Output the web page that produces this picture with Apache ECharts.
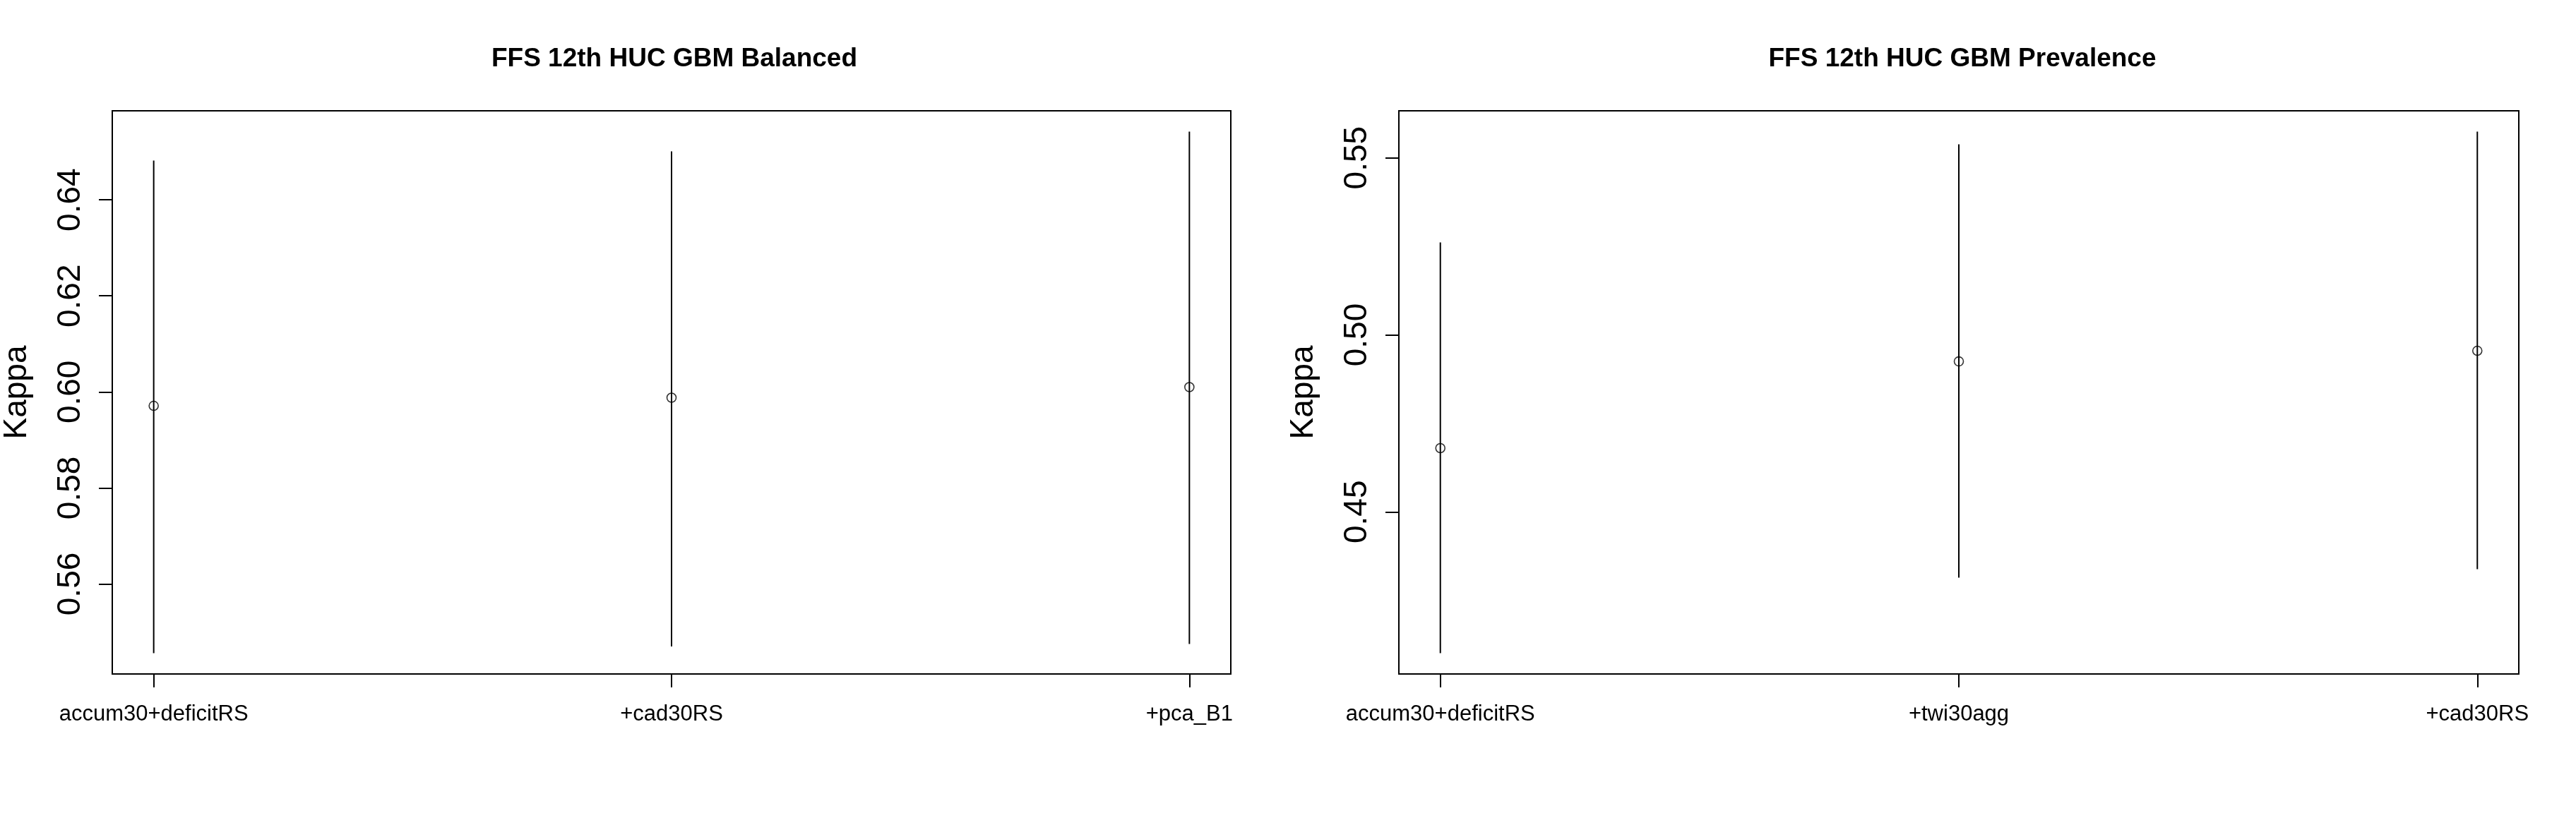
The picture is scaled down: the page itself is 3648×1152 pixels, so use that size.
<!DOCTYPE html>
<html>
<head>
<meta charset="utf-8">
<script src="https://cdn.jsdelivr.net/npm/echarts@6/dist/echarts.min.js"></script>
<style>
html,body{margin:0;padding:0;background:#fff;}
#chart{width:3648px;height:1152px;}
</style>
</head>
<body>
<div id="chart"></div>
<script>
// ---- data ----
const leftTitle = 'FFS 12th HUC GBM Balanced';
const leftCategories = ['accum30+deficitRS', '+cad30RS', '+pca_B1'];
const leftMean  = [0.5971, 0.5988, 0.6010];
const leftLower = [0.5456, 0.5470, 0.5475];
const leftUpper = [0.6482, 0.6501, 0.6542];
const leftYTicks = [0.56, 0.58, 0.60, 0.62, 0.64];

const rightTitle = 'FFS 12th HUC GBM Prevalence';
const rightCategories = ['accum30+deficitRS', '+twi30agg', '+cad30RS'];
const rightMean  = [0.4680, 0.4925, 0.4955];
const rightLower = [0.4101, 0.4314, 0.4338];
const rightUpper = [0.5261, 0.5538, 0.5574];
const rightYTicks = [0.45, 0.50, 0.55];

const yName = 'Kappa';
const FONT = '"Liberation Sans", Arial, Helvetica, sans-serif';

// R-style axis range: data range padded by 4% at both ends
function rRange(lo, hi) {
  const mn = Math.min.apply(null, lo), mx = Math.max.apply(null, hi);
  const d = (mx - mn) * 0.04;
  return [mn - d, mx + d];
}

const grids = [
  {left: 157, top: 157, width: 1586, height: 798},
  {left: 1981, top: 157, width: 1586, height: 798}
];
const panels = [
  {title: leftTitle, cats: leftCategories, mean: leftMean, lo: leftLower, hi: leftUpper, ticks: leftYTicks},
  {title: rightTitle, cats: rightCategories, mean: rightMean, lo: rightLower, hi: rightUpper, ticks: rightYTicks}
];

const option = {
  backgroundColor: '#fff',
  animation: false,
  title: [], grid: [], xAxis: [], yAxis: [], series: []
};

panels.forEach(function (p, i) {
  const g = grids[i];
  option.grid.push({left: g.left, top: g.top, width: g.width, height: g.height,
    show: true, borderColor: '#000', borderWidth: 2, backgroundColor: 'transparent'});
  option.title.push({
    text: p.title, left: g.left + g.width / 2, top: 60, textAlign: 'center',
    textStyle: {fontFamily: FONT, fontWeight: 'bold', fontSize: 37, color: '#000'}
  });
  const xs = p.cats.map(function (c, k) { return k + 1; });
  const n = p.cats.length;
  const xpad = (n - 1) * 0.04;
  option.xAxis.push({
    type: 'value', gridIndex: i, min: 1 - xpad, max: n + xpad,
    axisLine: {show: true, onZero: false, lineStyle: {color: '#000', width: 2}},
    splitLine: {show: false},
    axisTick: {show: true, customValues: xs, length: 19, lineStyle: {color: '#000', width: 2}},
    axisLabel: {show: true, customValues: xs, margin: 42, color: '#000',
      fontFamily: FONT, fontSize: 31,
      formatter: function (v) { return p.cats[Math.round(v) - 1]; }}
  });
  const yr = rRange(p.lo, p.hi);
  option.yAxis.push({
    type: 'value', gridIndex: i, min: yr[0], max: yr[1],
    name: yName, nameLocation: 'middle', nameGap: 112, nameRotate: 90,
    nameTextStyle: {fontFamily: FONT, fontSize: 46, color: '#000'},
    axisLine: {show: true, onZero: false, lineStyle: {color: '#000', width: 2}},
    splitLine: {show: false},
    axisTick: {show: true, customValues: p.ticks, length: 19, lineStyle: {color: '#000', width: 2}},
    axisLabel: {show: true, customValues: p.ticks, rotate: 90, margin: 36, color: '#000',
      fontFamily: FONT, fontSize: 46,
      formatter: function (v) { return v.toFixed(2); }}
  });
  option.series.push({
    type: 'custom', xAxisIndex: i, yAxisIndex: i,
    data: xs.map(function (x, k) { return [x, p.lo[k], p.hi[k]]; }),
    encode: {x: 0, y: [1, 2]},
    renderItem: function (params, api) {
      const a = api.coord([api.value(0), api.value(1)]);
      const b = api.coord([api.value(0), api.value(2)]);
      return {type: 'line', shape: {x1: a[0], y1: a[1], x2: b[0], y2: b[1]},
        style: {stroke: '#000', lineWidth: 2}};
    },
    z: 2
  });
  option.series.push({
    type: 'scatter', xAxisIndex: i, yAxisIndex: i,
    data: xs.map(function (x, k) { return [x, p.mean[k]]; }),
    symbol: 'circle', symbolSize: 13,
    itemStyle: {color: 'rgba(0,0,0,0)', borderColor: '#000', borderWidth: 1.6},
    z: 3
  });
});

const chart = echarts.init(document.getElementById('chart'), null, {renderer: 'canvas'});
chart.setOption(option);
</script>
</body>
</html>
